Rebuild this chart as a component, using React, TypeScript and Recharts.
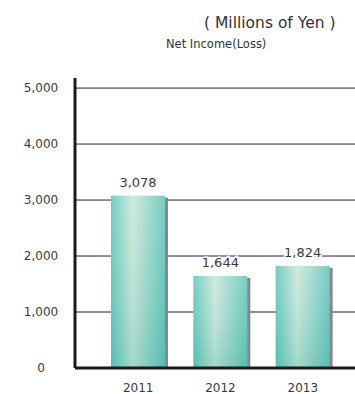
import React from 'react';
import { BarChart, Bar, XAxis, YAxis, CartesianGrid, LabelList } from 'recharts';

const years = ['2011', '2012', '2013'];
const netIncome = [3078, 1644, 1824];
const yTicks = [0, 1000, 2000, 3000, 4000, 5000];
const gridValues = [1000, 2000, 3000, 4000, 5000];
const Y_MAX = 5180;

const data = years.map((year, i) => ({ year, value: netIncome[i] }));

const FONT = '"DejaVu Sans", sans-serif';

const fmt = (v: number) => v.toLocaleString('en-US');

// bar with a grey drop shadow on the right side
const ShadowBar = (props: any) => {
  const { x, y, width, height } = props;
  return (
    <g>
      <rect x={x + 3} y={y + 2} width={width} height={height - 2} fill="#88888c" />
      <rect x={x} y={y} width={width} height={height} fill="url(#barGrad)" />
      <rect x={x} y={y} width={width} height={height} fill="url(#barShade)" />
    </g>
  );
};

const YTick = ({ y, payload }: any) => (
  <text x={41} y={y} dy={4} textAnchor="middle" fontSize={12} fill="#3a3a3a" fontFamily={FONT}>
    {fmt(payload.value)}
  </text>
);

// grid rows only at the labelled values (not at the top of the domain)
const gridRows = ({ yAxis, offset }: any) => {
  if (yAxis && typeof yAxis.scale === 'function') return gridValues.map((v) => yAxis.scale(v));
  return gridValues.map((v) => offset.top + offset.height * (1 - v / Y_MAX));
};

export default function App() {
  return (
    <div style={{ position: 'absolute', left: 0, top: 0, width: 355, height: 394, background: '#fff' }}>
      <div
        style={{
          position: 'absolute', left: 204, top: 14, fontSize: 15.5, color: '#333',
          fontFamily: FONT, whiteSpace: 'pre',
        }}
      >
        {'( Millions of Yen )'}
      </div>
      <div
        style={{
          position: 'absolute', left: 166, top: 37, fontSize: 11.5, color: '#333',
          fontFamily: FONT, whiteSpace: 'pre',
        }}
      >
        Net Income(Loss)
      </div>
      <BarChart
        width={355}
        height={394}
        data={data}
        margin={{ top: 78, right: 0, bottom: 0, left: 0 }}
        style={{ position: 'absolute', left: 0, top: 0 }}
      >
        <defs>
          <linearGradient id="barGrad" x1="0" y1="0" x2="1" y2="0">
            <stop offset="0%" stopColor="#5cc6ba" />
            <stop offset="40%" stopColor="#c9e7d8" />
            <stop offset="100%" stopColor="#5ec4b7" />
          </linearGradient>
          <linearGradient id="barShade" x1="0" y1="0" x2="0" y2="1">
            <stop offset="0%" stopColor="#ffffff" stopOpacity={0.15} />
            <stop offset="100%" stopColor="#3aa89c" stopOpacity={0.25} />
          </linearGradient>
        </defs>
        <CartesianGrid
          vertical={false}
          stroke="#1e1d52"
          strokeWidth={1}
          horizontalCoordinatesGenerator={gridRows}
        />
        <XAxis
          dataKey="year"
          height={26}
          padding={{ left: 22, right: 11 }}
          axisLine={{ stroke: '#1a1a1a', strokeWidth: 3 }}
          tickLine={false}
          tickSize={0}
          tickMargin={15}
          tick={{ fontSize: 12, fill: '#3a3a3a', fontFamily: FONT }}
        />
        <YAxis
          width={75}
          domain={[0, Y_MAX]}
          ticks={yTicks}
          axisLine={{ stroke: '#1a1a1a', strokeWidth: 3 }}
          tickLine={false}
          tick={<YTick />}
          interval={0}
        />
        <Bar dataKey="value" barSize={54} shape={<ShadowBar />} isAnimationActive={false}>
          <LabelList
            dataKey="value"
            position="top"
            offset={9}
            formatter={(v: any) => fmt(v)}
            style={{ fontSize: 13, fill: '#3a3a3a', fontFamily: FONT, stroke: '#fff', strokeWidth: 3, paintOrder: 'stroke' }}
          />
        </Bar>
      </BarChart>
    </div>
  );
}
